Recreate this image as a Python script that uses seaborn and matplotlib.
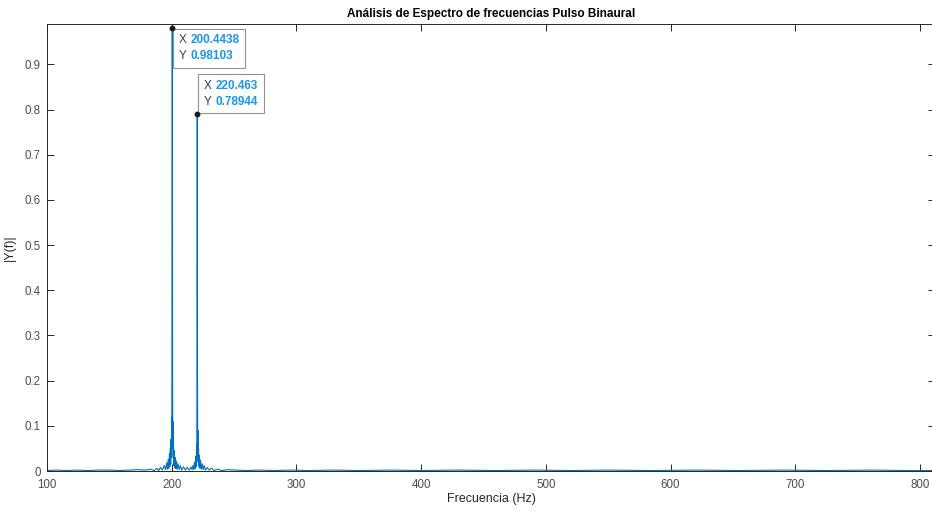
import matplotlib
matplotlib.use("Agg")
import matplotlib.pyplot as plt
import seaborn as sns
import pandas as pd
from matplotlib.offsetbox import TextArea, HPacker, AnnotationBbox

# ---- data ----
freq_hz = [100, 108, 116, 124, 133, 141, 150, 158, 166, 173, 179, 183, 186, 188, 189.5,
           191, 192.5, 194, 195, 196, 196.5, 197.2, 197.6, 198.2, 198.5, 198.9, 199.2,
           199.5, 199.7, 199.9, 200.05, 200.2, 200.33, 200.4438, 200.55, 200.67, 200.8,
           200.95, 201.15, 201.4, 201.7, 202.0, 202.4, 202.8, 203.3, 203.8, 204.4, 205,
           206, 207, 208, 209.5, 211, 212.5, 214, 215.5, 216.3, 217, 217.7, 218.3, 218.8,
           219.3, 219.6, 219.9, 220.1, 220.25, 220.36, 220.463, 220.57, 220.7, 220.85,
           221.0, 221.2, 221.5, 221.8, 222.2, 222.6, 223.1, 223.7, 224.4, 225.2, 226, 227,
           228.5, 230, 232, 234, 237, 240, 245, 252, 260, 270, 282, 295, 310, 330, 350,
           375, 400, 430, 460, 490, 520, 550, 585, 620, 655, 690, 725, 760, 790, 812]
magnitude = [0.001, 0.002, 0.001, 0.002, 0.001, 0.002, 0.002, 0.001, 0.002, 0.003, 0.002,
             0.004, 0.001, 0.006, 0.001, 0.008, 0.002, 0.012, 0.003, 0.018, 0.004, 0.026,
             0.006, 0.038, 0.010, 0.050, 0.015, 0.070, 0.030, 0.120, 0.060, 0.320, 0.600,
             0.98103, 0.550, 0.280, 0.050, 0.110, 0.030, 0.065, 0.012, 0.045, 0.008, 0.030,
             0.005, 0.022, 0.004, 0.016, 0.003, 0.012, 0.002, 0.009, 0.002, 0.008, 0.002,
             0.009, 0.003, 0.012, 0.003, 0.020, 0.005, 0.032, 0.010, 0.060, 0.025, 0.200,
             0.450, 0.78944, 0.420, 0.180, 0.030, 0.090, 0.020, 0.050, 0.010, 0.035, 0.006,
             0.024, 0.004, 0.016, 0.003, 0.012, 0.002, 0.008, 0.002, 0.006, 0.001, 0.004,
             0.001, 0.003, 0.002, 0.001, 0.002, 0.001, 0.002, 0.001, 0.002, 0.001, 0.002,
             0.001, 0.002, 0.001, 0.002, 0.001, 0.002, 0.001, 0.002, 0.001, 0.002, 0.001,
             0.002, 0.001, 0.001]
tips_x = [200.4438, 220.463]
tips_y = [0.98103, 0.78944]
tips_xtxt = ["200.4438", "220.463"]
tips_ytxt = ["0.98103", "0.78944"]
x_ticks = [100, 200, 300, 400, 500, 600, 700, 800]
y_ticks = [0, 0.1, 0.2, 0.3, 0.4, 0.5, 0.6, 0.7, 0.8, 0.9]

df = pd.DataFrame({"f": freq_hz, "m": magnitude})

sns.set_theme(style="white")
plt.rcParams["font.family"] = ["Liberation Sans", "DejaVu Sans"]

fig = plt.figure(figsize=(9.32, 5.12), dpi=100)
ax = fig.add_axes([47 / 932, 41 / 512, 888 / 932, 447 / 512])

sns.lineplot(data=df, x="f", y="m", ax=ax, color="#0072BD", linewidth=0.8,
             estimator=None, sort=False)

ax.set_xlim(100, 812)
ax.set_ylim(0, 0.9896)
ax.set_xticks(x_ticks)
ax.set_xticklabels([str(v) for v in x_ticks])
ax.set_yticks(y_ticks)
ax.set_yticklabels(["0"] + [f"{v:.1f}" for v in y_ticks[1:]])

gray = "#4d4d4d"
for s in ax.spines.values():
    s.set_color("#262626")
    s.set_linewidth(0.7)
ax.tick_params(direction="in", length=5, width=0.7, color="#262626",
               labelsize=8.3, labelcolor=gray, top=True, right=True,
               bottom=True, left=True)
ax.tick_params(axis="x", pad=5.5)
ax.tick_params(axis="y", pad=4.5)

ax.set_xlabel("Frecuencia (Hz)", fontsize=9, color="#262626", labelpad=2)
ax.set_ylabel("|Y(f)|", fontsize=9, color="#262626", labelpad=6)
ax.set_title("Análisis de Espectro de frecuencias Pulso Binaural",
             fontsize=8.5, fontweight="bold", color="#000000", pad=5)

# data tips
alignments = [((0, 1), (0.7, -0.7)), ((0, 0), (0.7, 0.7))]
for i in range(len(tips_x)):
    lab = TextArea("X\nY", textprops=dict(color="#404040", fontsize=8.5, linespacing=1.45))
    val = TextArea(tips_xtxt[i] + "\n" + tips_ytxt[i],
                   textprops=dict(color="#1a96ee", fontsize=8.5, fontweight="bold",
                                  linespacing=1.45))
    pack = HPacker(children=[lab, val], align="top", pad=4, sep=3)
    box_al, off = alignments[i]
    ab = AnnotationBbox(pack, (tips_x[i], tips_y[i]), xybox=off,
                        xycoords="data", boxcoords="offset points",
                        box_alignment=box_al, frameon=True, pad=0,
                        bboxprops=dict(edgecolor="#8c8c8c", facecolor="white",
                                       linewidth=0.8, alpha=0.95))
    ab.set_zorder(6)
    ax.add_artist(ab)
ax.plot(tips_x, tips_y, "o", color="#1a1a1a", markersize=3.2, zorder=7,
        clip_on=False)

fig.savefig("out.png", dpi=100)
